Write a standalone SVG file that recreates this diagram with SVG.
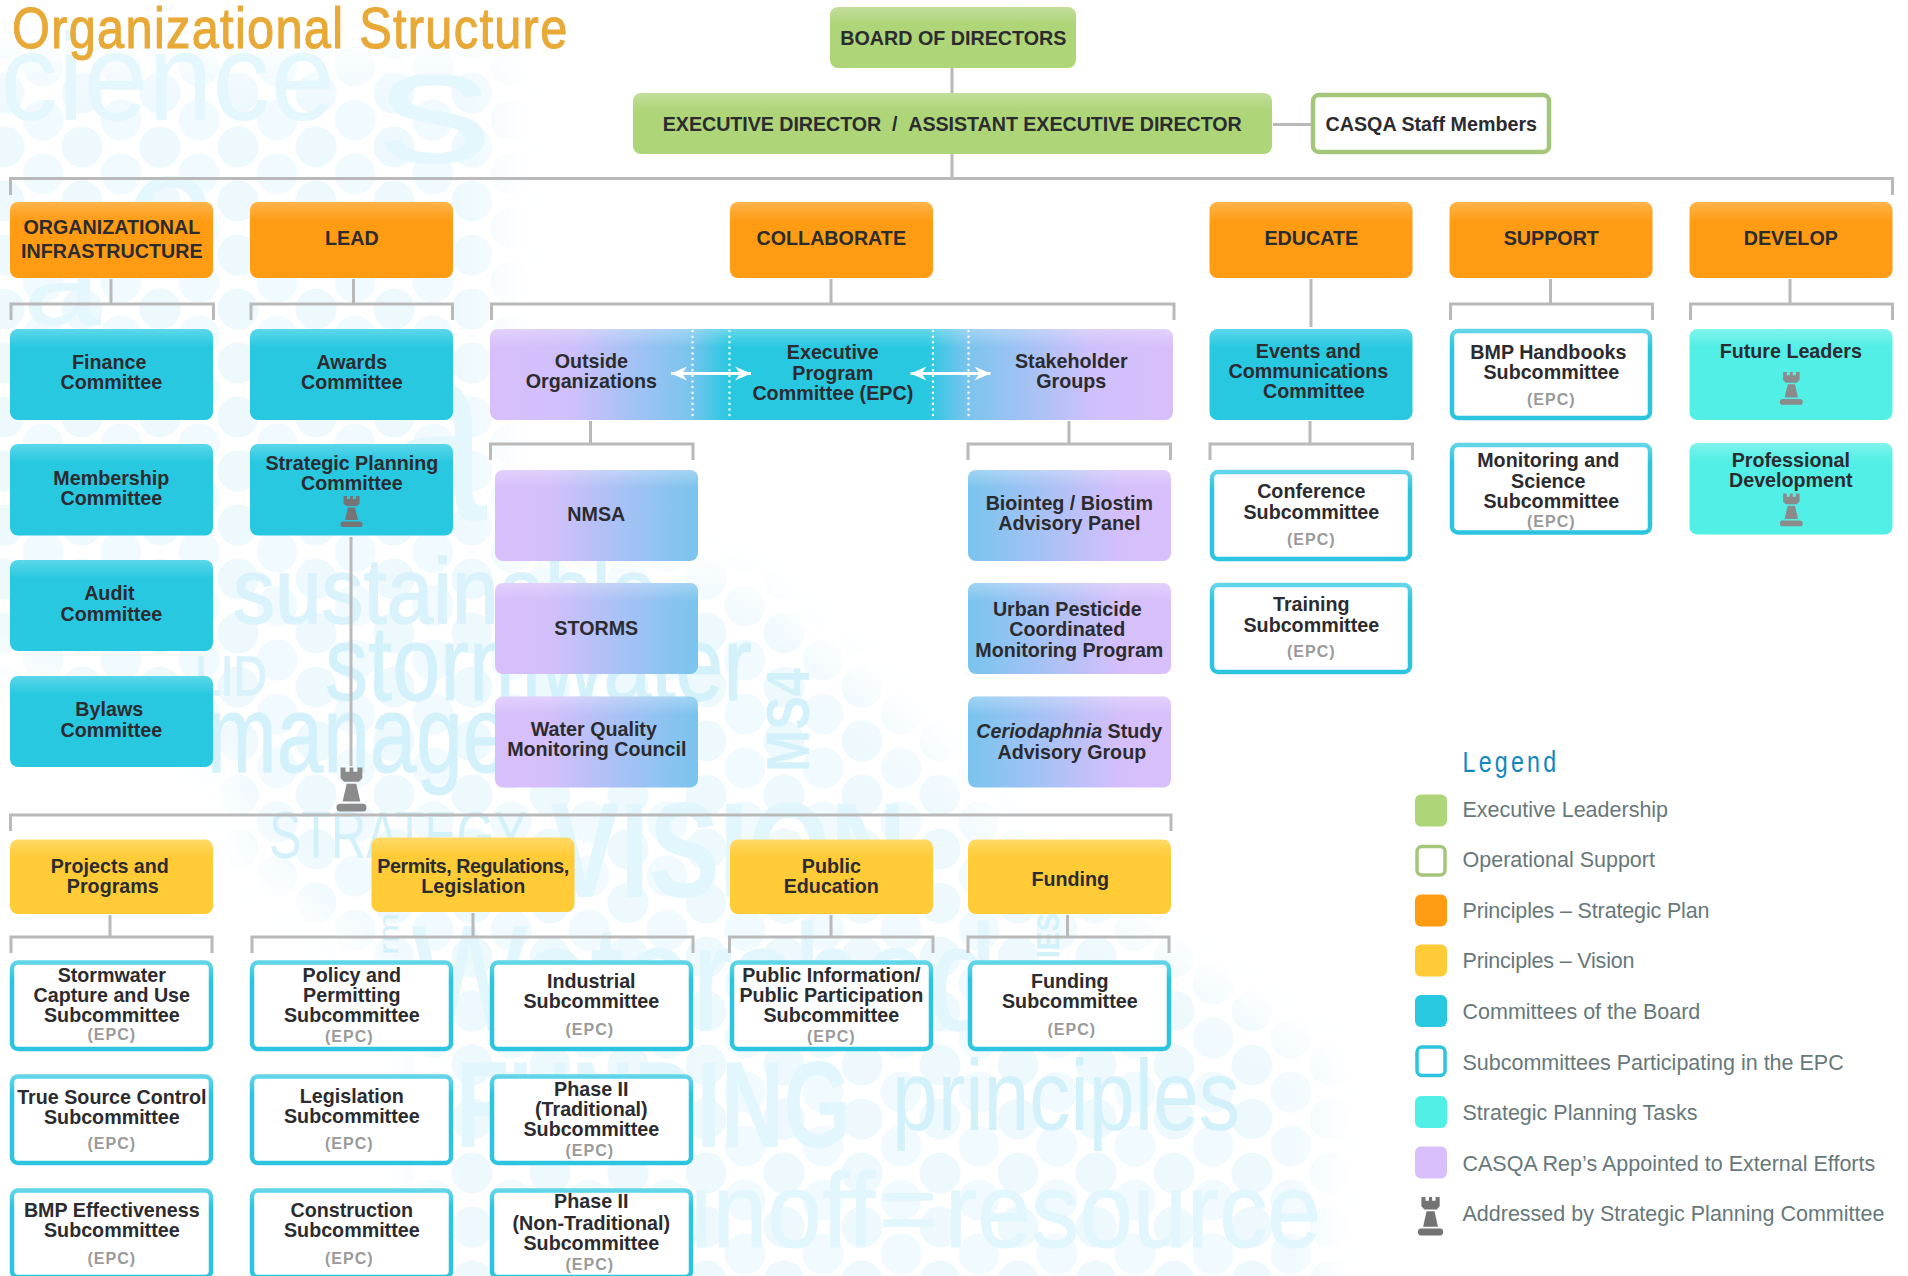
<svg xmlns="http://www.w3.org/2000/svg" width="1908" height="1276" viewBox="0 0 1908 1276">
<style>
text{font-family:"Liberation Sans",Arial,sans-serif}
.t{font-size:19.700px;font-weight:700;fill:#2b2b30;text-anchor:middle;transform:translateX(.3px)}
.e{font-size:16px;font-weight:700;fill:#9a9a9a;text-anchor:middle;letter-spacing:1px;transform:translateX(.3px)}
.l{font-size:21.500px;fill:#67787b}
.wm{fill:#d3f1fb}
.wb{fill:#d9f2fc;stroke:#d9f2fc;stroke-width:1.500}
.wv{fill:#e2f6fd}
.wf{fill:#e3f7fc}
.gr{fill:url(#gGreen)}.or{fill:url(#gOrange)}.ye{fill:url(#gYellow)}.te{fill:url(#gTeal)}.aq{fill:url(#gAqua)}
.pl{fill:url(#gPL)}.pr{fill:url(#gPR)}
.wh{fill:#fff;stroke:url(#gStroke);stroke-width:4.500}
.sh{fill:url(#sheen)}
.c path,.c line{fill:none;stroke:#b9b9b9;stroke-width:3}
.dot{stroke:#fff;stroke-width:2.400;stroke-dasharray:.1 5.500;stroke-linecap:round}
.arr{stroke:#fff;stroke-width:3;marker-start:url(#ah);marker-end:url(#ah)}
</style>
<defs>
<linearGradient id="gGreen" x1="0" y1="0" x2="0" y2="1"><stop offset="0" stop-color="#c3de9c"/><stop offset=".28" stop-color="#aed578"/></linearGradient>
<linearGradient id="gOrange" x1="0" y1="0" x2="0" y2="1"><stop offset="0" stop-color="#ffb44a"/><stop offset=".25" stop-color="#ff9c14"/></linearGradient>
<linearGradient id="gYellow" x1="0" y1="0" x2="0" y2="1"><stop offset="0" stop-color="#ffda68"/><stop offset=".25" stop-color="#ffcb36"/></linearGradient>
<linearGradient id="gTeal" x1="0" y1="0" x2="0" y2="1"><stop offset="0" stop-color="#5cd7ea"/><stop offset=".2" stop-color="#28c8e1"/></linearGradient>
<linearGradient id="gAqua" x1="0" y1="0" x2="0" y2="1"><stop offset="0" stop-color="#80f3ec"/><stop offset=".2" stop-color="#52efe6"/></linearGradient>
<linearGradient id="gPL"><stop offset="0" stop-color="#d8bffc"/><stop offset=".25" stop-color="#d5bffb"/><stop offset="1" stop-color="#79c4ee"/></linearGradient>
<linearGradient id="gPR"><stop offset="0" stop-color="#79c4ee"/><stop offset=".75" stop-color="#d5bffb"/><stop offset="1" stop-color="#d8bffc"/></linearGradient>
<linearGradient id="gBand" gradientUnits="userSpaceOnUse" x1="490" y1="0" x2="1173" y2="0"><stop offset="0" stop-color="#d8bffc"/><stop offset=".12" stop-color="#cfc0fb"/><stop offset=".29" stop-color="#7cc4ee"/><stop offset=".35" stop-color="#28c8e1"/><stop offset=".64" stop-color="#28c8e1"/><stop offset=".7" stop-color="#7cc4ee"/><stop offset=".88" stop-color="#cfc0fb"/><stop offset="1" stop-color="#d8bffc"/></linearGradient>
<linearGradient id="gStroke" x1="0" y1="0" x2="0" y2="1"><stop offset="0" stop-color="#62d5e9"/><stop offset=".2" stop-color="#2cc4df"/></linearGradient>
<linearGradient id="sheen" x1="0" y1="0" x2="0" y2="1"><stop offset="0" stop-color="#fff" stop-opacity=".28"/><stop offset=".2" stop-color="#fff" stop-opacity="0"/></linearGradient>
<pattern id="bub" patternUnits="userSpaceOnUse" width="78" height="54" x="4" y="39">
<circle cx="0" cy="0" r="20.500" fill="#eef9fe"/><circle cx="78" cy="0" r="20.500" fill="#eef9fe"/><circle cx="0" cy="54" r="20.500" fill="#eef9fe"/><circle cx="78" cy="54" r="20.500" fill="#eef9fe"/><circle cx="39" cy="27" r="20.500" fill="#f1fafe"/>
</pattern>
<filter id="soft" x="-10%" y="-10%" width="120%" height="120%"><feGaussianBlur stdDeviation="22"/></filter>
<mask id="fade" maskUnits="userSpaceOnUse" x="0" y="0" width="1908" height="1276"><path fill="#fff" filter="url(#soft)" d="M-40 60H500V560L740 580L900 720L1020 850L1320 1060V1320H420V1000L250 850L230 760L-40 640Z"/></mask>
<marker id="ah" markerUnits="userSpaceOnUse" markerWidth="17" markerHeight="16" viewBox="0 0 17 16" refX="16" refY="8" orient="auto-start-reverse"><path d="M0 1L16 8L0 15L5 8Z" fill="#fff"/></marker>
<g id="rook"><path d="M3 0h3.600v3h3v-3h2.800v3h3v-3H19v7.500l-2.600 2.600H5.600L3 7.500Z"/><path d="M7.500 11.500h7l3 12.500h-13Z"/><rect x="0" y="25.500" width="22" height="5.500" rx="2.500"/></g>
</defs>

<g id="background">
<rect width="1908" height="1276" fill="#fff"/>
<rect width="1908" height="1276" fill="url(#bub)" mask="url(#fade)"/>
<text class="wf" x="0" y="120" font-size="125" textLength="335" lengthAdjust="spacingAndGlyphs">cience</text>
<text class="wf" x="377" y="162" font-size="165" textLength="116" lengthAdjust="spacingAndGlyphs">s</text>
<text class="wf" x="125" y="270" font-size="175" textLength="92" lengthAdjust="spacingAndGlyphs">e</text>
<text class="wf" x="23" y="325" font-size="130" textLength="78" lengthAdjust="spacingAndGlyphs">a</text>
<text class="wf" x="380" y="520" font-size="260" textLength="107" lengthAdjust="spacingAndGlyphs">a</text>
<text class="wb" x="233" y="623" font-size="92" textLength="424" lengthAdjust="spacingAndGlyphs">sustainable</text>
<text class="wb" x="195" y="695" font-size="56" textLength="72" lengthAdjust="spacingAndGlyphs">LID</text>
<text class="wm" x="325" y="700" font-size="105" stroke="#d3f1fb" textLength="427" lengthAdjust="spacingAndGlyphs">stormwater</text>
<text class="wm" x="207" y="772" font-size="110" stroke="#d3f1fb" textLength="488" lengthAdjust="spacingAndGlyphs">management</text>
<text class="wm" transform="translate(809 772) rotate(-90)" font-size="61" font-weight="700" textLength="104" lengthAdjust="spacingAndGlyphs">MS4</text>
<text class="wm" x="269" y="858" font-size="67" textLength="258" lengthAdjust="spacingAndGlyphs">STRATEGY</text>
<text class="wv" x="550" y="897" font-size="136" font-weight="700" textLength="356" lengthAdjust="spacingAndGlyphs">VISION</text>
<text class="wv" x="412" y="1030" font-size="150" stroke="#e2f6fd" textLength="585" lengthAdjust="spacingAndGlyphs">Watershed</text>
<text class="wm" transform="translate(398 955) rotate(-90)" font-size="28" textLength="42" lengthAdjust="spacingAndGlyphs">rm</text>
<text class="wm" transform="translate(1059 958) rotate(-90)" font-size="32" font-weight="700" textLength="45" lengthAdjust="spacingAndGlyphs">IES</text>
<text class="wv" x="456" y="1147" font-size="122" font-weight="700" textLength="395" lengthAdjust="spacingAndGlyphs">FUNDING</text>
<text class="wm" x="892" y="1130" font-size="100" textLength="348" lengthAdjust="spacingAndGlyphs">principles</text>
<text class="wv" x="625" y="1247" font-size="105" stroke="#e2f6fd" textLength="250" lengthAdjust="spacingAndGlyphs">runoff</text>
<text class="wv" x="878" y="1245" font-size="105" textLength="60" lengthAdjust="spacingAndGlyphs">=</text>
<text class="wv" x="945" y="1247" font-size="105" stroke="#e2f6fd" textLength="376" lengthAdjust="spacingAndGlyphs">resource</text>
</g>

<text id="title" transform="translate(12 48) scale(.84 1)" font-size="58" fill="#e8a937" stroke="#e8a937" stroke-width="1.100" textLength="661" lengthAdjust="spacing">Organizational Structure</text>

<g id="connectors" class="c">
<line x1="952" y1="68" x2="952" y2="93"/>
<line x1="952" y1="154" x2="952" y2="178"/>
<line x1="1273" y1="124.500" x2="1311" y2="124.500"/>
<path d="M10.500 195V178.500H1892.500V195"/>
<line x1="111" y1="279" x2="111" y2="304"/><path d="M11 320V304H213.500V320"/>
<line x1="353.500" y1="279" x2="353.500" y2="304"/><path d="M251 320V304H452.500V320"/>
<line x1="831" y1="279" x2="831" y2="304"/><path d="M491.500 320V304H1174V320"/>
<line x1="1311" y1="279" x2="1311" y2="327"/>
<line x1="1550.500" y1="279" x2="1550.500" y2="304"/><path d="M1450.500 320V304H1652.500V320"/>
<line x1="1790" y1="279" x2="1790" y2="304"/><path d="M1690.500 320V304H1892.500V320"/>
<line x1="590.500" y1="421" x2="590.500" y2="444"/><path d="M490.500 460V444H693V460"/>
<line x1="1069" y1="421" x2="1069" y2="444"/><path d="M968 460V444H1170.500V460"/>
<line x1="1310" y1="421" x2="1310" y2="444"/><path d="M1210 460V444H1412.500V460"/>
<line x1="351" y1="537" x2="351" y2="766"/>
<path d="M10.500 831V815H1171V831"/>
<line x1="110" y1="915" x2="110" y2="937"/><path d="M11 953V937H212V953"/>
<line x1="473" y1="913" x2="473" y2="937"/><path d="M252 953V937H693V953"/>
<line x1="831" y1="915" x2="831" y2="937"/><path d="M729.500 953V937H933V953"/>
<line x1="1067.500" y1="915" x2="1067.500" y2="937"/><path d="M968 953V937H1169V953"/>
</g>
<use id="rook-main" href="#rook" transform="translate(336.500 767.500) scale(1.36 1.42)" fill="#8b8b8b"/>

<g id="board"><rect class="gr" x="830" y="7" width="246" height="61" rx="8"/><text class="t" x="953" y="45">BOARD OF DIRECTORS</text></g>
<g id="executive"><rect class="gr" x="633" y="93" width="639" height="61" rx="8"/><text class="t" x="952" y="131" textLength="579">EXECUTIVE DIRECTOR&#160;&#160;/&#160;&#160;ASSISTANT EXECUTIVE DIRECTOR</text></g>
<g id="staff"><rect x="1313" y="95" width="236" height="57" rx="6" fill="#fff" stroke="#a4c67a" stroke-width="4.500"/><text class="t" x="1431" y="131">CASQA Staff Members</text></g>

<g id="org-infra"><rect class="or" x="10" y="202" width="203" height="76" rx="8"/><text class="t" x="111.500" y="234">ORGANIZATIONAL</text><text class="t" x="111.500" y="257.500">INFRASTRUCTURE</text></g>
<g id="lead"><rect class="or" x="250" y="202" width="203" height="76" rx="8"/><text class="t" x="351.500" y="245">LEAD</text></g>
<g id="collaborate"><rect class="or" x="730" y="202" width="203" height="76" rx="8"/><text class="t" x="831" y="245">COLLABORATE</text></g>
<g id="educate"><rect class="or" x="1209.500" y="202" width="203" height="76" rx="8"/><text class="t" x="1311" y="245">EDUCATE</text></g>
<g id="support"><rect class="or" x="1449.500" y="202" width="203" height="76" rx="8"/><text class="t" x="1551" y="245">SUPPORT</text></g>
<g id="develop"><rect class="or" x="1689.500" y="202" width="203" height="76" rx="8"/><text class="t" x="1790.500" y="245">DEVELOP</text></g>

<g id="finance"><rect class="te" x="10" y="329" width="203" height="91" rx="8"/><text class="t" x="109" y="368.500">Finance</text><text class="t" x="111" y="388.500">Committee</text></g>
<g id="membership"><rect class="te" x="10" y="444" width="203" height="91.500" rx="8"/><text class="t" x="111" y="485">Membership</text><text class="t" x="111" y="505">Committee</text></g>
<g id="audit"><rect class="te" x="10" y="560" width="203" height="91" rx="8"/><text class="t" x="109" y="600">Audit</text><text class="t" x="111" y="620.500">Committee</text></g>
<g id="bylaws"><rect class="te" x="10" y="676" width="203" height="91" rx="8"/><text class="t" x="109" y="715.500">Bylaws</text><text class="t" x="111" y="736.500">Committee</text></g>
<g id="awards"><rect class="te" x="250" y="329" width="203" height="91" rx="8"/><text class="t" x="351.500" y="368.500">Awards</text><text class="t" x="351.500" y="388.500">Committee</text></g>
<g id="strategic"><rect class="te" x="250" y="444" width="203" height="91.500" rx="8"/><text class="t" x="351.500" y="469.500">Strategic Planning</text><text class="t" x="351.500" y="489.500">Committee</text><use href="#rook" transform="translate(340.500 496)" fill="#757575"/></g>

<g id="collab-band"><rect x="490" y="329" width="683" height="91" rx="8" fill="url(#gBand)"/><rect class="sh" x="490" y="329" width="683" height="91" rx="8"/>
<line class="dot" x1="692.500" y1="331" x2="692.500" y2="419"/><line class="dot" x1="729.500" y1="331" x2="729.500" y2="419"/><line class="dot" x1="933" y1="331" x2="933" y2="419"/><line class="dot" x1="968.500" y1="331" x2="968.500" y2="419"/>
<line class="arr" x1="671" y1="373.500" x2="751" y2="373.500"/><line class="arr" x1="910.500" y1="373.500" x2="990.500" y2="373.500"/>
<text class="t" x="591" y="367.500">Outside</text><text class="t" x="591" y="387.500">Organizations</text>
<text class="t" x="832.500" y="358.500">Executive</text><text class="t" x="832.500" y="379.500">Program</text><text class="t" x="832.500" y="399.500">Committee (EPC)</text>
<text class="t" x="1071" y="367.500">Stakeholder</text><text class="t" x="1071" y="387.500">Groups</text></g>

<g id="nmsa"><rect class="pl" x="495" y="470" width="203" height="91" rx="8"/><rect class="sh" x="495" y="470" width="203" height="91" rx="8"/><text class="t" x="596" y="521">NMSA</text></g>
<g id="storms"><rect class="pl" x="495" y="583" width="203" height="91" rx="8"/><rect class="sh" x="495" y="583" width="203" height="91" rx="8"/><text class="t" x="596" y="635">STORMS</text></g>
<g id="wqmc"><rect class="pl" x="495" y="696.500" width="203" height="91" rx="8"/><rect class="sh" x="495" y="696.500" width="203" height="91" rx="8"/><text class="t" x="593.500" y="735.500">Water Quality</text><text class="t" x="596.500" y="755.500">Monitoring Council</text></g>
<g id="biointeg"><rect class="pr" x="968" y="470" width="203" height="91" rx="8"/><rect class="sh" x="968" y="470" width="203" height="91" rx="8"/><text class="t" x="1069" y="509.500">Biointeg / Biostim</text><text class="t" x="1069" y="529.500">Advisory Panel</text></g>
<g id="urban"><rect class="pr" x="968" y="583" width="203" height="91" rx="8"/><rect class="sh" x="968" y="583" width="203" height="91" rx="8"/><text class="t" x="1067" y="615.500">Urban Pesticide</text><text class="t" x="1067" y="636">Coordinated</text><text class="t" x="1069" y="656.500">Monitoring Program</text></g>
<g id="ceriodaphnia"><rect class="pr" x="968" y="696.500" width="203" height="91" rx="8"/><rect class="sh" x="968" y="696.500" width="203" height="91" rx="8"/><text class="t" x="1069" y="738"><tspan font-style="italic">Ceriodaphnia</tspan> Study</text><text class="t" x="1071.500" y="758.500">Advisory Group</text></g>

<g id="events"><rect class="te" x="1209.500" y="329" width="203" height="91" rx="8"/><text class="t" x="1308" y="357.500">Events and</text><text class="t" x="1308" y="377.500">Communications</text><text class="t" x="1313.500" y="397.500">Committee</text></g>
<g id="conference"><rect class="wh" x="1212" y="472" width="198" height="87" rx="6"/><text class="t" x="1311" y="497.500">Conference</text><text class="t" x="1311" y="518.500">Subcommittee</text><text class="e" x="1311" y="544.500">(EPC)</text></g>
<g id="training"><rect class="wh" x="1212" y="585" width="198" height="87" rx="6"/><text class="t" x="1311" y="610.500">Training</text><text class="t" x="1311" y="631.500">Subcommittee</text><text class="e" x="1311" y="656.500">(EPC)</text></g>
<g id="handbooks"><rect class="wh" x="1452" y="331" width="198" height="87" rx="6"/><text class="t" x="1548" y="358.500">BMP Handbooks</text><text class="t" x="1551" y="378.500">Subcommittee</text><text class="e" x="1551" y="404.500">(EPC)</text></g>
<g id="monitoring"><rect class="wh" x="1452" y="445" width="198" height="87.500" rx="6"/><text class="t" x="1548" y="466.500">Monitoring and</text><text class="t" x="1548" y="487.500">Science</text><text class="t" x="1551" y="507.500">Subcommittee</text><text class="e" x="1551" y="526.500">(EPC)</text></g>
<g id="future"><rect class="aq" x="1689.500" y="329" width="203" height="91" rx="8"/><text class="t" x="1790.500" y="357.500">Future Leaders</text><use href="#rook" transform="translate(1780 372) scale(1.03 1.06)" fill="#8b8b8b"/></g>
<g id="prodev"><rect class="aq" x="1689.500" y="443" width="203" height="91.500" rx="8"/><text class="t" x="1790.500" y="466.500">Professional</text><text class="t" x="1790.500" y="486.500">Development</text><use href="#rook" transform="translate(1780 493.500) scale(1.03 1.06)" fill="#8b8b8b"/></g>

<g id="projects"><rect class="ye" x="10" y="839.500" width="203" height="74.500" rx="8"/><text class="t" x="109.500" y="872.500">Projects and</text><text class="t" x="112.500" y="892.500">Programs</text></g>
<g id="permits"><rect class="ye" x="371.500" y="837.500" width="203" height="74.500" rx="8"/><text class="t" x="473" y="872.500" textLength="192">Permits, Regulations,</text><text class="t" x="473" y="892.500">Legislation</text></g>
<g id="public-ed"><rect class="ye" x="730" y="839.500" width="203" height="74.500" rx="8"/><text class="t" x="831" y="872.500">Public</text><text class="t" x="831" y="892.500">Education</text></g>
<g id="funding"><rect class="ye" x="968" y="839.500" width="203" height="74.500" rx="8"/><text class="t" x="1070" y="885.500">Funding</text></g>

<g id="stormwater"><rect class="wh" x="12" y="962.500" width="199" height="86.500" rx="6"/><text class="t" x="111.500" y="981.500">Stormwater</text><text class="t" x="111.500" y="1001.500">Capture and Use</text><text class="t" x="111.500" y="1021.500">Subcommittee</text><text class="e" x="111.500" y="1039.500">(EPC)</text></g>
<g id="policy"><rect class="wh" x="252" y="962.500" width="199" height="86.500" rx="6"/><text class="t" x="351.500" y="981.500">Policy and</text><text class="t" x="351.500" y="1001.500">Permitting</text><text class="t" x="351.500" y="1021.500">Subcommittee</text><text class="e" x="349" y="1041.500">(EPC)</text></g>
<g id="industrial"><rect class="wh" x="492" y="962.500" width="199" height="86.500" rx="6"/><text class="t" x="591" y="987.500">Industrial</text><text class="t" x="591" y="1008">Subcommittee</text><text class="e" x="589.500" y="1034.500">(EPC)</text></g>
<g id="public-info"><rect class="wh" x="732" y="962.500" width="199" height="86.500" rx="6"/><text class="t" x="831" y="981.500">Public Information/</text><text class="t" x="831" y="1001.500">Public Participation</text><text class="t" x="831" y="1021.500">Subcommittee</text><text class="e" x="831" y="1041.500">(EPC)</text></g>
<g id="funding-sub"><rect class="wh" x="970" y="962.500" width="199" height="86.500" rx="6"/><text class="t" x="1069.500" y="987.500">Funding</text><text class="t" x="1069.500" y="1008">Subcommittee</text><text class="e" x="1071.500" y="1034.500">(EPC)</text></g>
<g id="true-source"><rect class="wh" x="12" y="1076.500" width="199" height="86.500" rx="6"/><text class="t" x="111.500" y="1103.500">True Source Control</text><text class="t" x="111.500" y="1123.500">Subcommittee</text><text class="e" x="111.500" y="1148.500">(EPC)</text></g>
<g id="legislation"><rect class="wh" x="252" y="1076.500" width="199" height="86.500" rx="6"/><text class="t" x="351.500" y="1102.500">Legislation</text><text class="t" x="351.500" y="1122.500">Subcommittee</text><text class="e" x="349" y="1148.500">(EPC)</text></g>
<g id="phase2-trad"><rect class="wh" x="492" y="1076.500" width="199" height="86.500" rx="6"/><text class="t" x="591" y="1095.500">Phase II</text><text class="t" x="591" y="1115.500">(Traditional)</text><text class="t" x="591" y="1135.500">Subcommittee</text><text class="e" x="589.500" y="1156">(EPC)</text></g>
<g id="bmp-effect"><rect class="wh" x="12" y="1190.500" width="199" height="86.500" rx="6"/><text class="t" x="111.500" y="1216.500">BMP Effectiveness</text><text class="t" x="111.500" y="1236.500">Subcommittee</text><text class="e" x="111.500" y="1263.500">(EPC)</text></g>
<g id="construction"><rect class="wh" x="252" y="1190.500" width="199" height="86.500" rx="6"/><text class="t" x="351.500" y="1216.500">Construction</text><text class="t" x="351.500" y="1236.500">Subcommittee</text><text class="e" x="349" y="1263.500">(EPC)</text></g>
<g id="phase2-nontrad"><rect class="wh" x="492" y="1190.500" width="199" height="86.500" rx="6"/><text class="t" x="591" y="1208">Phase II</text><text class="t" x="591" y="1229.500">(Non-Traditional)</text><text class="t" x="591" y="1249.500">Subcommittee</text><text class="e" x="589.500" y="1270">(EPC)</text></g>

<g id="legend">
<text transform="translate(1462.500 772) scale(.8 1)" font-size="29" fill="#0f88bf" textLength="117" lengthAdjust="spacing">Legend</text>
<g><rect x="1415" y="794.500" width="32" height="32" rx="6" fill="#aed578"/><text class="l" x="1462.500" y="816.500">Executive Leadership</text></g>
<g><rect x="1417" y="846.500" width="28" height="28.500" rx="5" fill="#fff" stroke="#a4c67a" stroke-width="3.500"/><text class="l" x="1462.500" y="867">Operational Support</text></g>
<g><rect x="1415" y="894.500" width="32" height="32" rx="6" fill="#ff9c14"/><text class="l" x="1462.500" y="917.500" textLength="247">Principles – Strategic Plan</text></g>
<g><rect x="1415" y="944.500" width="32" height="32" rx="6" fill="#ffcb36"/><text class="l" x="1462.500" y="968" textLength="172">Principles – Vision</text></g>
<g><rect x="1415" y="995" width="32" height="32" rx="6" fill="#28c8e1"/><text class="l" x="1462.500" y="1018.500">Committees of the Board</text></g>
<g><rect x="1417" y="1047" width="28" height="28.500" rx="5" fill="#fff" stroke="#2cc4df" stroke-width="3.500"/><text class="l" x="1462.500" y="1069.500">Subcommittees Participating in the EPC</text></g>
<g><rect x="1415" y="1096" width="32" height="32" rx="6" fill="#52efe6"/><text class="l" x="1462.500" y="1119.500">Strategic Planning Tasks</text></g>
<g><rect x="1415" y="1146.500" width="32" height="32" rx="6" fill="#d8bffc"/><text class="l" x="1462.500" y="1170.500">CASQA Rep’s Appointed to External Efforts</text></g>
<g><use href="#rook" transform="translate(1418 1197) scale(1.14 1.24)" fill="#737373"/><text class="l" x="1462.500" y="1220.500">Addressed by Strategic Planning Committee</text></g>
</g>
</svg>
